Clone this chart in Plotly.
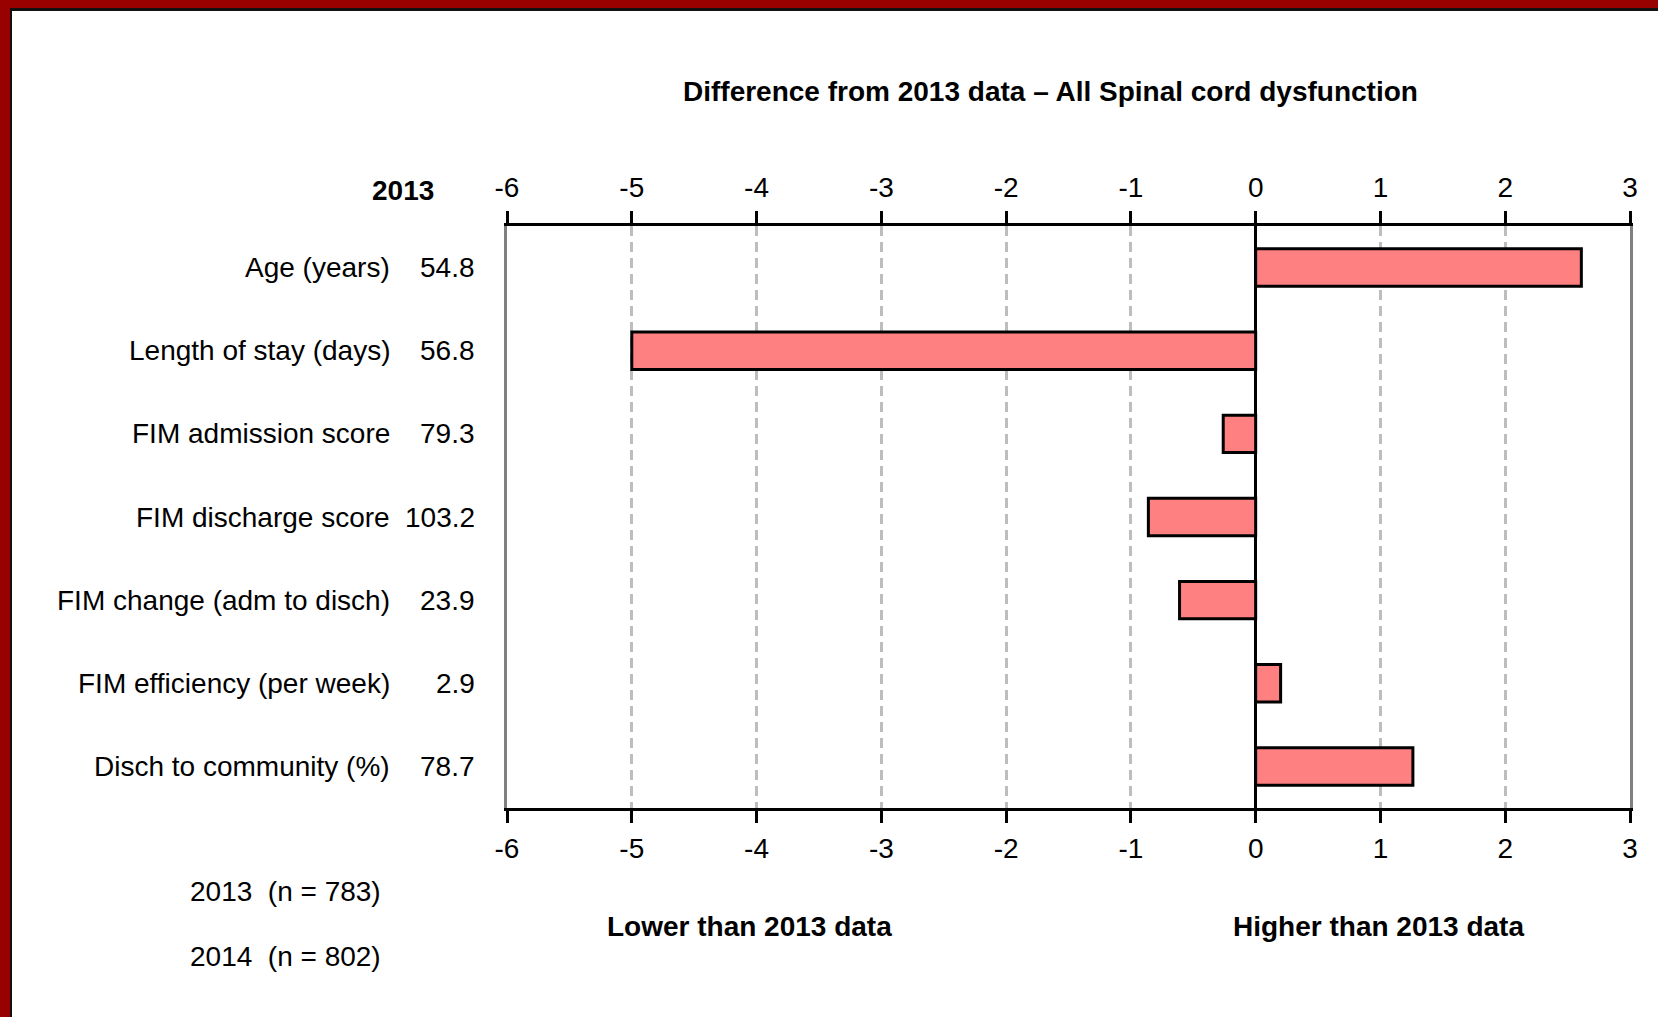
import plotly.graph_objects as go

# ---- data ----
categories = ["Age (years)", "Length of stay (days)", "FIM admission score",
              "FIM discharge score", "FIM change (adm to disch)",
              "FIM efficiency (per week)", "Disch to community (%)"]
values_2013 = ["54.8", "56.8", "79.3", "103.2", "23.9", "2.9", "78.7"]
difference = [2.61, -5.0, -0.26, -0.86, -0.61, 0.2, 1.26]
tick_vals = [-6, -5, -4, -3, -2, -1, 0, 1, 2, 3]
tick_text = ["-6", "-5", "-4", "-3", "-2", "-1", "0", "1", "2", "3"]
title_text = "Difference from 2013 data \u2013 All Spinal cord dysfunction"
n_labels = ["2013  (n = 783)", "2014  (n = 802)"]

W, H = 1658, 1017
L, R, T, B = 507, 28, 226, 209
PW, PH = W - L - R, H - T - B
FONT = "Liberation Sans Narrow, Arial Narrow, Liberation Sans, sans-serif"
FS = 28


def px(x):
    return (x - L) / PW


def py(y):
    return (H - B - y) / PH


fig = go.Figure()
fig.add_trace(go.Bar(
    y=categories, x=difference, orientation="h",
    marker=dict(color="#FF8080", line=dict(color="black", width=3)),
    hoverinfo="x+y", showlegend=False,
))
# invisible trace to anchor top axis
fig.add_trace(go.Scatter(x=[tick_vals[0]], y=[categories[0]], xaxis="x2",
                         mode="markers", marker=dict(opacity=0),
                         showlegend=False, hoverinfo="skip"))

axis_common = dict(
    range=[tick_vals[0], tick_vals[-1]], tickmode="array", tickvals=tick_vals,
    ticktext=tick_text, ticks="outside", ticklen=12, tickwidth=2.5,
    tickcolor="black", showline=True, linecolor="black", linewidth=3,
    tickfont=dict(family=FONT, size=FS, color="black"),
)
fig.update_layout(
    width=W, height=H,
    margin=dict(l=L, r=R, t=T, b=B, pad=0),
    paper_bgcolor="white", plot_bgcolor="white",
    bargap=0.55,
    xaxis=dict(**axis_common, side="bottom", showgrid=True, gridcolor="#BDBDBD",
               griddash="10px,6px", gridwidth=2.5, zeroline=True,
               zerolinecolor="black", zerolinewidth=2.5, ticklabelstandoff=1),
    xaxis2=dict(**axis_common, side="top", overlaying="x", matches="x",
                showgrid=False, zeroline=False, ticklabelstandoff=3),
    yaxis=dict(type="category", autorange="reversed", showticklabels=False,
               ticks="", showgrid=False, zeroline=False, showline=True,
               linecolor="#808080", linewidth=2.5, mirror=True),
)

ann = []
for c, v in zip(categories, values_2013):
    ann.append(dict(x=px(392), xref="paper", y=c, yref="y", text=c,
                    xanchor="right", yanchor="middle", showarrow=False,
                    font=dict(family=FONT, size=FS, color="black")))
    ann.append(dict(x=px(477), xref="paper", y=c, yref="y", text=v,
                    xanchor="right", yanchor="middle", showarrow=False,
                    font=dict(family=FONT, size=FS, color="black")))

ann.append(dict(x=px(1050), y=py(92), xref="paper", yref="paper",
                text="<b>" + title_text + "</b>", showarrow=False,
                xanchor="center", yanchor="middle",
                font=dict(family=FONT, size=FS, color="black")))
ann.append(dict(x=px(436), y=py(190), xref="paper", yref="paper",
                text="<b>2013</b>", showarrow=False, xanchor="right",
                yanchor="middle", font=dict(family=FONT, size=FS, color="black")))
for lab, yy in zip(n_labels, [891, 956]):
    ann.append(dict(x=px(383), y=py(yy), xref="paper", yref="paper",
                    text=lab.replace("  ", "&nbsp; "), showarrow=False,
                    xanchor="right", yanchor="middle",
                    font=dict(family=FONT, size=FS, color="black")))
ann.append(dict(x=px(749), y=py(926), xref="paper", yref="paper",
                text="<b>Lower than 2013 data</b>", showarrow=False,
                xanchor="center", yanchor="middle",
                font=dict(family=FONT, size=FS, color="black")))
ann.append(dict(x=px(1378), y=py(926), xref="paper", yref="paper",
                text="<b>Higher than 2013 data</b>", showarrow=False,
                xanchor="center", yanchor="middle",
                font=dict(family=FONT, size=FS, color="black")))
fig.update_layout(annotations=ann)

# frame: red band top and left, thin dark line inside
shapes = [
    dict(type="rect", xref="paper", yref="paper", x0=px(0), x1=px(W),
         y0=py(0), y1=py(8), fillcolor="#990000", line=dict(width=0), layer="above"),
    dict(type="rect", xref="paper", yref="paper", x0=px(0), x1=px(10),
         y0=py(0), y1=py(H), fillcolor="#990000", line=dict(width=0), layer="above"),
    dict(type="rect", xref="paper", yref="paper", x0=px(10), x1=px(W),
         y0=py(8), y1=py(11), fillcolor="#111111", line=dict(width=0), layer="above"),
    dict(type="rect", xref="paper", yref="paper", x0=px(10), x1=px(12),
         y0=py(8), y1=py(H), fillcolor="#111111", line=dict(width=0), layer="above"),
]
fig.update_layout(shapes=shapes)

fig.write_html(
    "out.html",
    config={"displayModeBar": False},
    post_script="document.body.style.margin='0';document.body.style.overflow='hidden';",
)
